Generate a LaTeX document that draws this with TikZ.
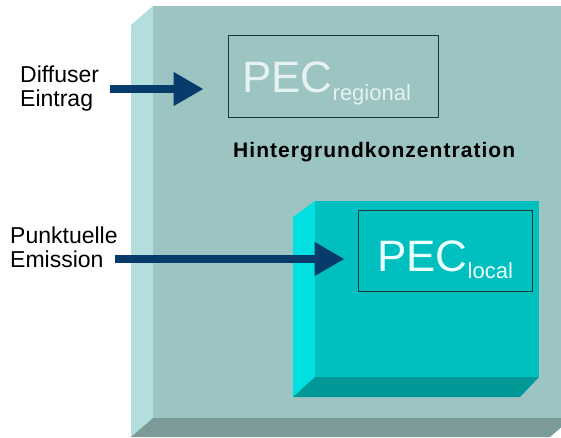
\documentclass[tikz,border=0pt]{standalone}
\usepackage{fontspec}
\setmainfont{Liberation Sans}
\usetikzlibrary{arrows.meta}

\definecolor{slabfront}{HTML}{9CC4C2}
\definecolor{slabside}{HTML}{B3DEDE}
\definecolor{slabbottom}{HTML}{7B9A98}
\definecolor{tealfront}{HTML}{00BFBF}
\definecolor{tealside}{HTML}{00E0E3}
\definecolor{tealbottom}{HTML}{009896}
\definecolor{arrowblue}{HTML}{073B6C}
\definecolor{boxedge}{HTML}{1F3636}
\definecolor{regtext}{HTML}{E6F2F2}
\definecolor{loctext}{HTML}{EAFFFF}

\tikzset{
  pecbox/.style={draw=boxedge, line width=1pt, inner sep=0pt},
  pectext/.style={anchor=base west, inner sep=0pt, font=\fontsize{44}{44}\selectfont},
  sidelabel/.style={anchor=base west, align=left, inner sep=0pt, font=\fontsize{23}{24}\selectfont},
  flow/.style={draw=arrowblue, line width=8pt, -{Triangle[length=30pt,width=32pt]}},
}

\begin{document}
\begin{tikzpicture}[x=1pt, y=-1pt]
	\useasboundingbox (0,0) rectangle (561,437);
	\fill[white] (0,0) rectangle (561,437);
	
	% background slab
	\begin{scope}
		\clip (0,0) rectangle (561,437);
		\fill[slabfront] (153,6) rectangle (580,418);
		\fill[slabside] (131,25) -- (153,6) -- (153,418) -- (131,437) -- cycle;
		\fill[slabbottom] (131,437) -- (153,418) -- (572,418) -- (550,437) -- cycle;
	\end{scope}
	
	% local block
	\fill[tealfront] (315,201) rectangle (539,377);
	\fill[tealside] (293,217) -- (315,201) -- (315,377) -- (293,397) -- cycle;
	\fill[tealbottom] (293,397) -- (315,377) -- (539,377) -- (520,397) -- cycle;
	
	\node[pecbox, minimum width=210pt, minimum height=82pt] (regional) at (333,76) {};
	\node[pectext, text=regtext] (regname) at (242,92) {PEC\raisebox{-8pt}{\fontsize{22}{22}\selectfont regional}};
	\node[pecbox, minimum width=174pt, minimum height=81pt] (local) at (445,250.5) {};
	\node[pectext, text=loctext] (locname) at (377,271) {PEC\raisebox{-7pt}{\fontsize{22}{22}\selectfont local}};
	
	\node[anchor=base west, inner sep=0pt, font=\bfseries\fontsize{21}{21}\selectfont\addfontfeature{LetterSpace=5}] (backconc) at (233,157) {Hintergrundkonzentration};
	
	% last line sits on the anchor
	\node[sidelabel] (diffuse) at (20,106) {Diffuser\\Eintrag};
	\node[sidelabel] (point) at (10,267) {Punktuelle\\Emission};
	
	\coordinate (diffstart) at (110,89);
	\coordinate (pointstart) at (115,259);
	\draw[flow, shorten >=24pt] (diffstart) -- (diffstart -| regional.west);
	\draw[flow, shorten >=13pt] (pointstart) -- (pointstart -| local.west);
\end{tikzpicture}
\end{document}
